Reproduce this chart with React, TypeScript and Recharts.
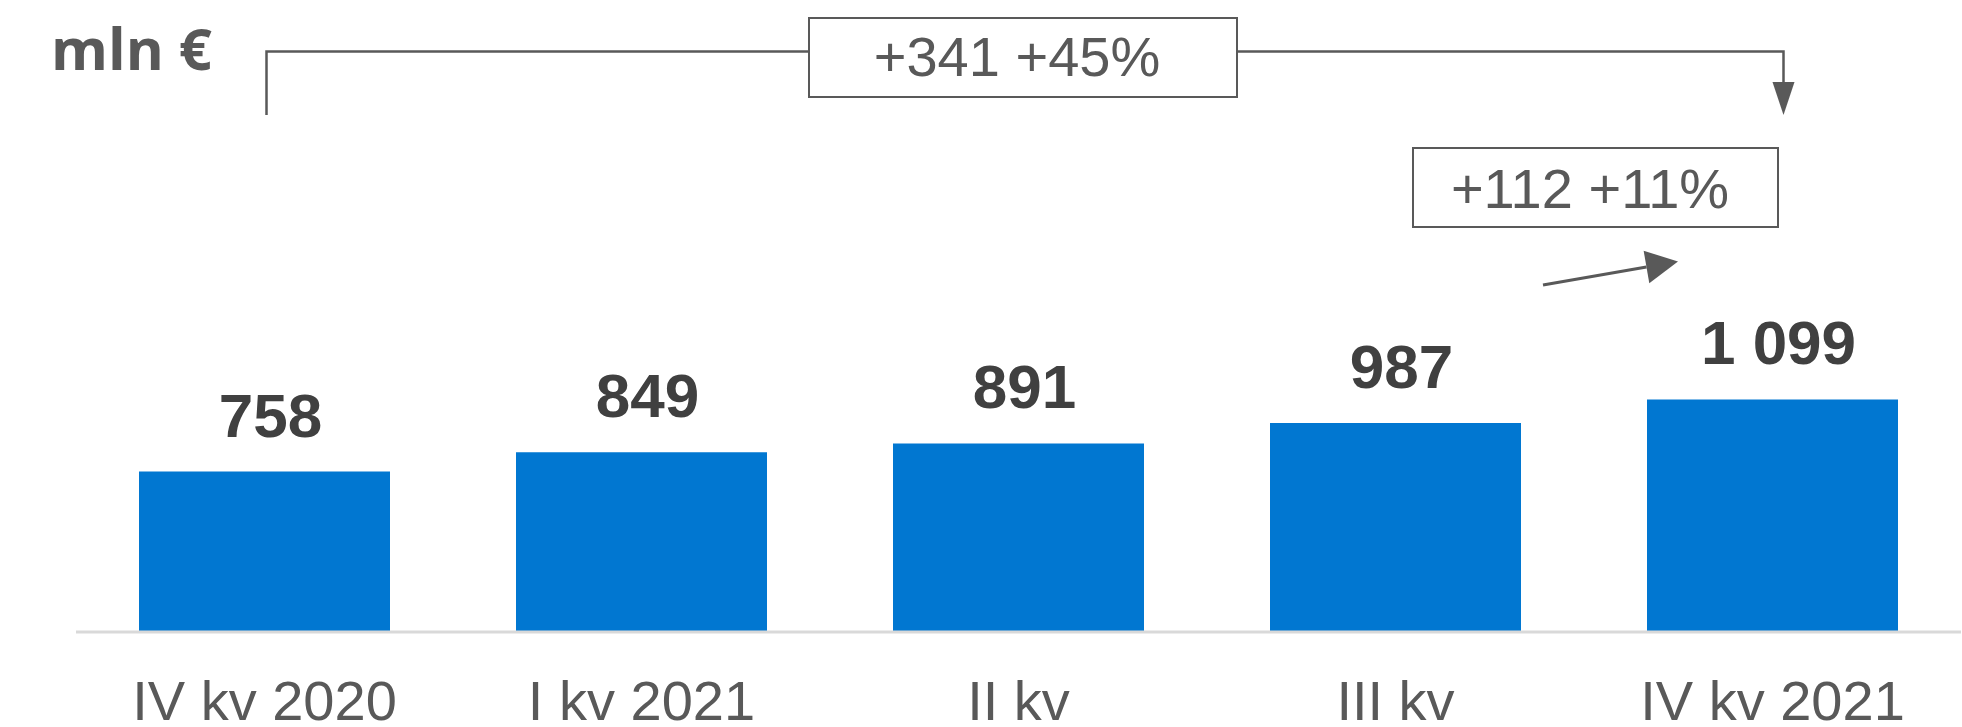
import React from 'react';
import { BarChart, Bar, XAxis, YAxis, LabelList, Customized } from 'recharts';

// ---- data ----
const categories = ['IV kv 2020', 'I kv 2021', 'II kv', 'III kv', 'IV kv 2021'];
const values = [758, 849, 891, 987, 1099];
const unitLabel = 'mln €';
const totalChangeLabel = '+341 +45%';
const lastChangeLabel = '+112 +11%';
const yDomain = [0, 1200];

const data = categories.map((c, i) => ({ name: c, value: values[i] }));

// ---- layout / style ----
const W = 1962;
const H = 727;
const MARGIN = { top: 378, right: 1, bottom: 0, left: 76 };
const AXIS_H = 95;
const BAR_SIZE = 251;
const FONT = '"Liberation Sans", Arial, Helvetica, sans-serif';
const GREY = '#595959';
const DARK = '#404040';
const BAR_COLOR = '#0177D1';
const AXIS_COLOR = '#D9D9D9';

const PLOT_W = W - MARGIN.left - MARGIN.right;
const BAND = PLOT_W / categories.length;
const center = (i: number) => MARGIN.left + BAND * (i + 0.5);

const fmt = (v: number) => String(v).replace(/\B(?=(\d{3})+(?!\d))/g, ' ');

const Tick = (props: any) => {
  const { x, y, payload } = props;
  return (
    <text x={x} y={y + 88} textAnchor="middle" fontFamily={FONT} fontSize={56} fill={GREY}>
      {payload.value}
    </text>
  );
};

const ValueLabel = (props: any) => {
  const { x, y, width, value } = props;
  return (
    <text
      x={Number(x) + Number(width) / 2 + 6}
      y={Number(y) - 35}
      textAnchor="middle"
      fontFamily={FONT}
      fontWeight="bold"
      fontSize={62}
      fill={DARK}
    >
      {fmt(Number(value))}
    </text>
  );
};

const Annotations = () => {
  // big bracket from first to last bar
  const xL = center(0) + 2;
  const xR = center(categories.length - 1) + 11;
  const yLine = 51.5;
  const yEnd = 115;
  const box1 = { x: 809, y: 18, w: 428, h: 79 };
  // small box + arrow
  const box2 = { x: 1413, y: 148, w: 365, h: 79 };
  const a0 = { x: 1543, y: 285 };
  const tip = { x: 1678, y: 261.5 };
  const dx = tip.x - a0.x;
  const dy = tip.y - a0.y;
  const len = Math.sqrt(dx * dx + dy * dy);
  const ux = dx / len;
  const uy = dy / len;
  const headL = 32;
  const headW = 16.5;
  const bx = tip.x - ux * headL;
  const by = tip.y - uy * headL;
  const p1 = `${bx - uy * headW},${by + ux * headW}`;
  const p2 = `${bx + uy * headW},${by - ux * headW}`;
  return (
    <g>
      <text
        x={51}
        y={70}
        fontFamily={'"Open Sans", "Liberation Sans", Arial, sans-serif'}
        fontWeight="bold"
        fontSize={58}
        fill={GREY}
      >
        {unitLabel}
      </text>
      <polyline
        points={`${xL},${yEnd} ${xL},${yLine} ${box1.x},${yLine}`}
        fill="none"
        stroke={GREY}
        strokeWidth={2.5}
      />
      <polyline
        points={`${box1.x + box1.w},${yLine} ${xR},${yLine} ${xR},${yEnd - 30}`}
        fill="none"
        stroke={GREY}
        strokeWidth={2.5}
      />
      <polygon points={`${xR - 11},${yEnd - 33} ${xR + 11},${yEnd - 33} ${xR},${yEnd}`} fill={GREY} />
      <rect x={box1.x} y={box1.y} width={box1.w} height={box1.h} fill="#fff" stroke={GREY} strokeWidth={2} />
      <text x={1017} y={76} textAnchor="middle" fontFamily={FONT} fontSize={56} fill={GREY}>
        {totalChangeLabel}
      </text>
      <rect x={box2.x} y={box2.y} width={box2.w} height={box2.h} fill="#fff" stroke={GREY} strokeWidth={2} />
      <text x={1590} y={208} textAnchor="middle" fontFamily={FONT} fontSize={56} fill={GREY}>
        {lastChangeLabel}
      </text>
      <line x1={a0.x} y1={a0.y} x2={bx} y2={by} stroke={GREY} strokeWidth={3} />
      <polygon points={`${tip.x},${tip.y} ${p1} ${p2}`} fill={GREY} />
    </g>
  );
};

export default function App() {
  return (
    <div style={{ width: W, height: H, background: '#fff' }}>
      <style>{`body{margin:0;overflow:hidden;background:#fff}`}</style>
      <BarChart width={W} height={H} data={data} margin={MARGIN}>
        <YAxis hide domain={yDomain} />
        <XAxis
          dataKey="name"
          height={AXIS_H}
          interval={0}
          tickLine={false}
          tickSize={0}
          tickMargin={0}
          axisLine={{ stroke: AXIS_COLOR, strokeWidth: 3 }}
          tick={<Tick />}
        />
        <Bar dataKey="value" fill={BAR_COLOR} barSize={BAR_SIZE} isAnimationActive={false}>
          <LabelList dataKey="value" content={<ValueLabel />} />
        </Bar>
        <Customized component={Annotations} />
      </BarChart>
    </div>
  );
}
